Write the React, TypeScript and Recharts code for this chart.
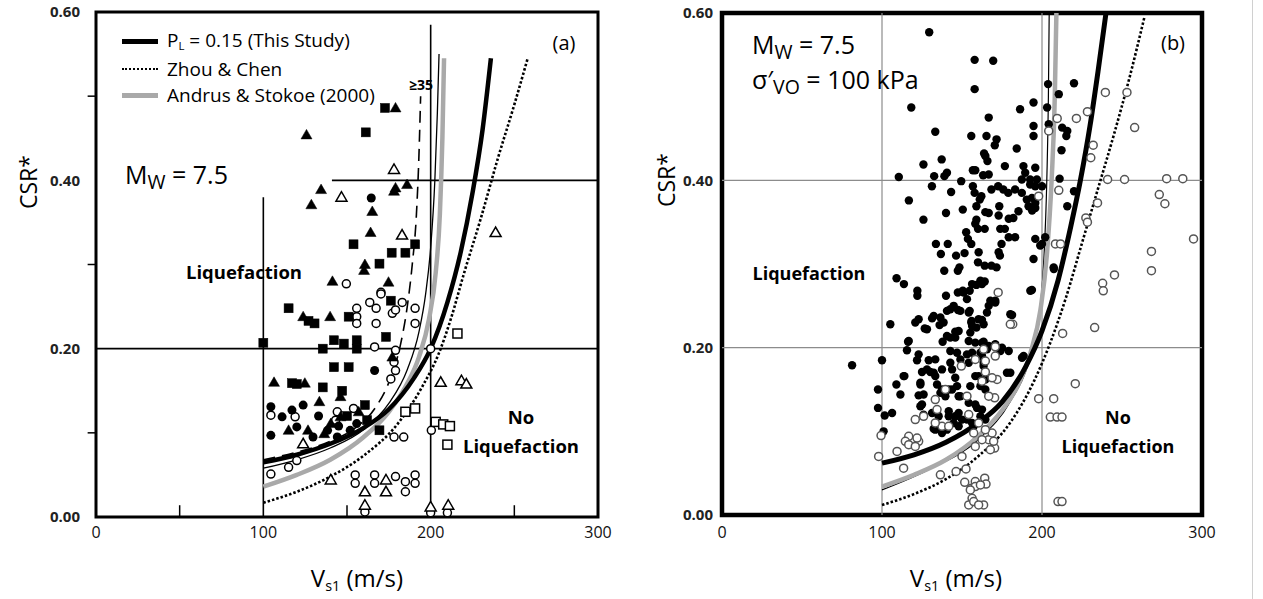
import { ComposedChart, Line, Scatter, XAxis, YAxis, ReferenceLine, ReferenceArea } from 'recharts'

const FONT = '"Open Sans", "Noto Sans", sans-serif'

type Pair = [number, number]
const pts = (arr: Pair[]) => arr.map(([x, y]) => ({ x, y }))

// axes
const X_TICKS = [0, 100, 200, 300]
const Y_TICKS = [0, 0.2, 0.4, 0.6]
const X_MINOR = [50, 150, 250]
const Y_MINOR = [0.1, 0.3, 0.5]

// ---- panel (a) curves: [Vs1, CSR]
const A_STUDY: Pair[] = [[100, 0.065], [120, 0.074], [140, 0.087], [160, 0.106], [175, 0.128], [190, 0.165], [200, 0.2], [210, 0.255], [218, 0.315], [225, 0.385], [231, 0.46], [236, 0.545]]
const A_ZHOU: Pair[] = [[100, 0.017], [120, 0.03], [140, 0.048], [160, 0.073], [180, 0.11], [195, 0.155], [205, 0.195], [212, 0.235], [220, 0.29], [230, 0.355], [240, 0.425], [250, 0.49], [258, 0.545]]
const A_ANDRUS: Pair[] = [[100, 0.036], [120, 0.05], [140, 0.068], [160, 0.095], [175, 0.125], [185, 0.155], [193, 0.19], [199, 0.235], [203, 0.29], [205.5, 0.36], [207, 0.45], [208, 0.545]]
const A_FC35: Pair[] = [[100, 0.068], [120, 0.077], [140, 0.09], [155, 0.106], [167, 0.13], [176, 0.165], [182, 0.205], [186, 0.25], [189, 0.3], [191.5, 0.36], [193, 0.43], [194, 0.5]]
const A_FC5: Pair[] = [[100, 0.058], [120, 0.068], [140, 0.082], [160, 0.104], [175, 0.135], [186, 0.175], [193, 0.22], [197, 0.265], [200, 0.32], [202.5, 0.4], [204, 0.48], [205, 0.55]]

// ---- panel (a) case histories
const A_TRI_FILLED: Pair[] = [[125.8, 0.454], [134.5, 0.389], [128.7, 0.371], [165.1, 0.363], [164.1, 0.338], [160.7, 0.3], [160.2, 0.293], [178.1, 0.387], [179, 0.391], [185.9, 0.395], [174.8, 0.279], [141.3, 0.28], [179, 0.486], [123.8, 0.238], [139.9, 0.238], [177.1, 0.19], [133.5, 0.137], [146.1, 0.143], [115.1, 0.103], [126.7, 0.103], [140.3, 0.111], [136.4, 0.099], [146.1, 0.119], [106.4, 0.16], [124.8, 0.159], [157, 0.125]]
const A_SQ_FILLED: Pair[] = [[172.7, 0.486], [161.2, 0.457], [153.9, 0.324], [169.4, 0.301], [176.7, 0.314], [184.9, 0.314], [190.7, 0.324], [115.1, 0.248], [100, 0.207], [130.6, 0.23], [127, 0.233], [151, 0.238], [135.5, 0.2], [142.2, 0.21], [148.1, 0.206], [155.8, 0.21], [155.8, 0.2], [142.2, 0.178], [151, 0.178], [173.3, 0.214], [176.2, 0.257], [135.5, 0.154], [147.1, 0.15], [160.7, 0.133], [169.4, 0.103], [117.1, 0.159], [120, 0.158], [150, 0.12], [162, 0.115]]
const A_CIRC_FILLED: Pair[] = [[164.5, 0.379], [104.5, 0.131], [111.2, 0.119], [117.1, 0.127], [123.8, 0.133], [104.5, 0.097], [120, 0.107], [129.7, 0.095], [138.4, 0.103], [155.8, 0.111], [151.9, 0.103], [144.2, 0.095], [166.5, 0.174], [145, 0.108], [133, 0.12]]
const A_CIRC_OPEN: Pair[] = [[149.6, 0.277], [170.3, 0.267], [155.8, 0.248], [155.8, 0.238], [155.8, 0.23], [163.6, 0.255], [167.4, 0.248], [170.3, 0.265], [177.1, 0.242], [183, 0.255], [179, 0.246], [167.4, 0.23], [166.5, 0.202], [179, 0.198], [190.7, 0.248], [190.7, 0.23], [178.1, 0.184], [179, 0.174], [176.2, 0.164], [104.5, 0.121], [119, 0.119], [144.2, 0.125], [153.9, 0.129], [143.2, 0.115], [104.5, 0.051], [120, 0.067], [115.1, 0.059], [178.1, 0.095], [183.9, 0.095], [154.9, 0.05], [154.9, 0.04], [166.5, 0.05], [166.5, 0.04], [179, 0.048], [184.9, 0.042], [184.9, 0.03], [190.7, 0.05], [190.7, 0.04], [200, 0.2], [200.4, 0.103], [160.7, 0.006], [200, 0.005], [210, 0.005]]
const A_TRI_OPEN: Pair[] = [[178.1, 0.413], [146.7, 0.38], [182.9, 0.335], [123.8, 0.087], [173.3, 0.044], [140.3, 0.044], [160.7, 0.03], [173.3, 0.03], [206, 0.16], [160.7, 0.014], [200, 0.012], [210.5, 0.014], [218.4, 0.162], [221.3, 0.158], [238.8, 0.338]]
const A_SQ_OPEN: Pair[] = [[203, 0.113], [207.5, 0.11], [211.5, 0.108], [210, 0.086], [216, 0.218], [184.9, 0.125], [190.7, 0.129]]

// ---- panel (b) curves
const B_STUDY: Pair[] = [[100, 0.062], [120, 0.072], [140, 0.087], [160, 0.11], [175, 0.135], [190, 0.178], [200, 0.22], [210, 0.28], [218, 0.345], [224, 0.4], [230, 0.465], [235, 0.53], [240, 0.6]]
const B_ZHOU: Pair[] = [[100, 0.012], [120, 0.025], [140, 0.043], [160, 0.07], [180, 0.11], [195, 0.16], [205, 0.205], [215, 0.26], [225, 0.325], [235, 0.39], [245, 0.455], [255, 0.525], [264, 0.595]]
const B_ANDRUS: Pair[] = [[100, 0.034], [120, 0.048], [140, 0.066], [160, 0.094], [175, 0.125], [185, 0.155], [193, 0.195], [199, 0.245], [203, 0.31], [206, 0.4], [208, 0.5], [209, 0.6]]
const B_THIN: Pair[] = [[100, 0.03], [130, 0.055], [160, 0.09], [180, 0.135], [192, 0.185], [198, 0.235], [201, 0.3], [203, 0.4], [204, 0.5], [204.5, 0.6]]

// ---- panel (b) case histories
const B_LIQ: Pair[] = [
  [129.5, 0.577], [157.9, 0.544], [169.5, 0.543], [157.9, 0.509], [118.3, 0.487], [166.7, 0.475], [133.3, 0.458], [155.8, 0.453], [165.3, 0.453], [171.6, 0.449], [170.5, 0.442], [184.2, 0.438], [186.3, 0.485], [194.7, 0.493], [194.7, 0.465], [194.7, 0.453], [203.2, 0.487], [203.8, 0.515], [220, 0.516], [210.5, 0.503], [204.2, 0.467], [212.6, 0.463], [215.8, 0.459], [215.2, 0.453], [212.2, 0.436],
  [125.9, 0.419], [137.3, 0.425], [164.6, 0.429], [165.9, 0.423], [163.8, 0.432], [140.6, 0.409], [139, 0.405], [132.6, 0.405], [110.5, 0.404], [116.8, 0.376], [149.5, 0.399], [156.8, 0.412], [158.3, 0.412], [163.2, 0.406], [166.7, 0.407], [176.8, 0.417], [188.4, 0.417], [189.5, 0.409], [187.4, 0.401], [192.6, 0.401], [195.8, 0.415], [196.8, 0.401], [211, 0.402],
  [131.2, 0.393], [143.2, 0.386], [156.8, 0.393], [157.9, 0.385], [161.1, 0.377], [162.1, 0.381], [168.4, 0.389], [172.6, 0.393], [175.8, 0.389], [178.9, 0.385], [183.2, 0.389], [187.4, 0.385], [192.6, 0.395], [195.8, 0.393], [200, 0.393], [193.7, 0.379], [195.8, 0.373], [190.5, 0.377], [220, 0.387], [215.8, 0.369],
  [140, 0.361], [150.5, 0.365], [159, 0.369], [159, 0.353], [166.7, 0.361], [173.3, 0.369], [185.3, 0.363], [191.6, 0.369], [195.8, 0.367], [125.9, 0.353], [160, 0.342], [164.2, 0.342], [182.1, 0.355], [176.8, 0.342], [183.2, 0.332], [152.6, 0.338], [153.7, 0.33], [133.7, 0.324], [141.1, 0.324], [155.8, 0.324], [174.7, 0.324], [195.8, 0.33], [200, 0.324], [202, 0.332],
  [193.8, 0.364], [164.6, 0.362], [172.9, 0.358], [179.2, 0.354], [158.3, 0.348], [173.9, 0.342], [179.2, 0.332], [198.9, 0.322], [160.4, 0.314], [172.9, 0.314], [207.3, 0.296],
  [136.8, 0.312], [146.3, 0.31], [151.6, 0.313], [160, 0.302], [164.2, 0.298], [168.4, 0.298], [171.6, 0.296], [173.7, 0.31], [194.7, 0.306], [207.4, 0.294], [138.9, 0.292], [148.4, 0.296], [147.4, 0.292], [109.1, 0.283], [113.7, 0.276], [122.1, 0.268], [122.1, 0.262], [140, 0.262], [147.4, 0.266], [150.5, 0.268], [159, 0.275], [164.2, 0.279], [193.7, 0.269],
  [151, 0.266], [154.8, 0.268], [162.5, 0.276], [156.3, 0.276], [161.5, 0.28], [192.7, 0.268], [167.7, 0.256], [170.8, 0.254], [166.7, 0.25], [154.2, 0.242], [160.4, 0.234], [156.3, 0.226], [180.2, 0.24],
  [81.3, 0.179], [100, 0.185], [97.5, 0.15], [97.5, 0.128], [106.3, 0.122], [101.7, 0.119], [101, 0.1], [105.2, 0.228], [116.3, 0.207], [115.6, 0.197], [114, 0.166], [109, 0.156], [111.5, 0.144], [120.8, 0.23], [126.7, 0.223], [131.3, 0.235], [153.1, 0.258], [154.8, 0.244], [140.6, 0.244], [147.5, 0.245], [136.5, 0.236], [136, 0.227], [145.8, 0.219], [137.9, 0.207], [142.7, 0.212], [155.8, 0.23], [162.5, 0.233], [165.6, 0.242], [170.8, 0.256], [181.3, 0.239], [180.2, 0.17], [188.5, 0.19],
  [122.9, 0.234], [128.1, 0.222], [132.3, 0.238], [138.5, 0.23], [142.7, 0.246], [144.8, 0.25], [149, 0.244], [156, 0.232], [159, 0.224], [163.5, 0.228], [140.6, 0.214], [145.8, 0.212], [147.9, 0.22], [155.2, 0.218], [116.7, 0.208],
  [121.9, 0.185], [129.2, 0.185], [133.3, 0.186], [142.7, 0.196], [142.7, 0.182], [143.8, 0.174], [153.1, 0.192], [154.2, 0.182], [158.3, 0.206], [163.5, 0.207], [165.6, 0.198], [174, 0.196], [125, 0.171], [130.2, 0.171], [124, 0.158], [122.9, 0.143], [134.4, 0.156], [137.5, 0.15], [145.8, 0.164], [143.8, 0.15], [139.6, 0.142], [147.9, 0.142], [160.4, 0.166], [161.5, 0.154], [164.6, 0.15],
  [154.2, 0.208], [162.5, 0.206], [166.7, 0.202], [170.8, 0.204], [175, 0.2], [179.2, 0.196], [156.3, 0.194], [162.5, 0.19], [187.5, 0.188], [163.5, 0.178], [158.3, 0.166], [178.1, 0.17], [155.2, 0.154], [149, 0.186], [146.9, 0.194], [161.5, 0.194], [163.5, 0.182], [128.1, 0.174], [132.3, 0.17], [113.5, 0.166],
  [125, 0.132], [126, 0.12], [131.3, 0.122], [135.4, 0.118], [141.7, 0.124], [145.8, 0.118], [150, 0.114], [147.9, 0.106], [158.3, 0.132], [162.5, 0.126], [164.6, 0.114], [132.3, 0.103], [137.5, 0.098], [156.3, 0.11], [137.5, 0.174], [133.3, 0.166], [122.9, 0.192],
  [124, 0.156], [126, 0.144], [136.5, 0.146], [141.7, 0.15], [146.9, 0.154], [149, 0.142], [164.6, 0.162], [124, 0.13], [134.4, 0.122], [141.7, 0.118], [144.8, 0.11], [147.9, 0.122], [153.1, 0.114], [157.3, 0.106], [161.5, 0.118], [133.3, 0.102], [140.6, 0.102], [154.2, 0.134], [159.4, 0.128],
]
const B_NOLIQ: Pair[] = [
  [239.6, 0.505], [253.1, 0.505], [228.4, 0.482], [221.5, 0.474], [209.5, 0.474], [204.2, 0.459], [257.9, 0.463], [232, 0.442], [230.5, 0.427], [241, 0.401], [251.6, 0.401], [277.9, 0.402], [288, 0.402], [273.3, 0.383], [276.8, 0.372], [294.7, 0.33], [268.4, 0.315], [268.4, 0.292], [245.3, 0.287], [237.9, 0.277], [238.3, 0.268], [234.7, 0.373], [227.4, 0.355], [228.4, 0.35], [210.5, 0.388], [197.9, 0.381], [208.4, 0.324], [211.6, 0.324], [172.6, 0.266],
  [232.9, 0.224], [212.9, 0.217], [181.7, 0.228], [220.8, 0.157], [197.9, 0.139], [207.3, 0.139], [205.2, 0.117], [209.4, 0.117], [212.5, 0.117], [210, 0.016], [212.5, 0.016], [170.8, 0.201], [170.8, 0.19], [164.6, 0.171], [171.9, 0.162], [170.4, 0.14], [158.3, 0.186], [149.6, 0.178], [164.6, 0.184],
  [133.3, 0.138], [139.6, 0.15], [134.4, 0.126], [120.8, 0.114], [126, 0.118], [116.7, 0.094], [114.6, 0.088], [122.9, 0.088], [109.4, 0.076], [113.5, 0.056], [97.9, 0.07], [99.4, 0.095], [116.7, 0.084], [120.8, 0.082], [121.9, 0.092], [137.5, 0.106], [141.7, 0.106], [133.3, 0.11], [154.2, 0.12], [160.4, 0.11],
  [136.5, 0.048], [146.3, 0.052], [150, 0.07], [152.5, 0.055], [151.7, 0.039], [158.3, 0.04], [164.2, 0.044], [165, 0.037], [155.8, 0.032], [158.3, 0.034], [156.3, 0.02], [154.2, 0.012], [157.3, 0.016], [163.5, 0.012], [166.7, 0.09], [170.4, 0.08], [169.8, 0.088], [168.8, 0.098], [164.6, 0.102], [158.3, 0.082], [157.3, 0.098],
  [180.2, 0.228], [168.8, 0.164], [162.5, 0.16], [166.7, 0.142], [163.5, 0.198], [153.1, 0.142], [162.5, 0.09], [167.7, 0.078], [161.5, 0.036], [155.2, 0.03], [160.4, 0.012],
]

// ---- marker shapes
const dot = (r: number) => (p: any) => <circle cx={p.cx} cy={p.cy} r={r} fill="#000" />
const ring = (r: number, stroke: string) => (p: any) => (
  <circle cx={p.cx} cy={p.cy} r={r} fill="#fff" stroke={stroke} strokeWidth={1.5} />
)
const tri = (filled: boolean) => (p: any) => (
  <polygon
    points={`${p.cx},${p.cy - 5.5} ${p.cx - 5.5},${p.cy + 4} ${p.cx + 5.5},${p.cy + 4}`}
    fill={filled ? '#000' : '#fff'}
    stroke="#000"
    strokeWidth={filled ? 0.5 : 1.5}
  />
)
const sq = (filled: boolean) => (p: any) => (
  <rect x={p.cx - 4.5} y={p.cy - 4.5} width={9} height={9} fill={filled ? '#000' : '#fff'} stroke="#000" strokeWidth={filled ? 0.5 : 1.5} />
)

function Txt({ x, y, size = 16, weight = 400, anchor = 'start', rotate = false, children }: any) {
  const tx = anchor === 'middle' ? '-50%' : anchor === 'end' ? '-100%' : '0'
  return (
    <div
      style={{
        position: 'absolute',
        left: x,
        top: y,
        transform: `translate(${tx}, -50%)${rotate ? ' rotate(-90deg)' : ''}`,
        fontSize: size,
        fontWeight: weight,
        fontFamily: FONT,
        whiteSpace: 'nowrap',
        lineHeight: 1,
        color: '#000',
      }}
    >
      {children}
    </div>
  )
}

const subSmall = { fontSize: '0.6em', verticalAlign: '-0.3em' }
const subBig = { fontSize: '0.78em', verticalAlign: '-0.28em' }

const xTick = { fontSize: 16, fill: '#111', fontFamily: FONT }
const yTick = { fontSize: 15, fontWeight: 700, fill: '#222', fontFamily: FONT }

function PanelA() {
  return (
    <ComposedChart width={640} height={599} margin={{ top: 12, right: 42, bottom: 52, left: 36 }}>
      <XAxis type="number" dataKey="x" domain={[0, 300]} ticks={X_TICKS} interval={0} allowDataOverflow axisLine={false} tickLine={false} tickSize={0} tickMargin={10} height={30} tick={xTick} />
      <YAxis type="number" dataKey="y" domain={[0, 0.6]} ticks={Y_TICKS} interval={0} allowDataOverflow axisLine={false} tickLine={false} tickSize={0} tickMargin={16} width={60} tick={yTick} tickFormatter={(v: number) => v.toFixed(2)} />
      <ReferenceArea x1={0} x2={300} y1={0} y2={0.6} fill="none" fillOpacity={0} stroke="#000" strokeWidth={3} />
      <ReferenceLine y={0.2} stroke="#000" strokeWidth={1.6} />
      <ReferenceLine segment={[{ x: 141, y: 0.4 }, { x: 300, y: 0.4 }]} stroke="#000" strokeWidth={1.6} />
      <ReferenceLine segment={[{ x: 100, y: 0 }, { x: 100, y: 0.38 }]} stroke="#000" strokeWidth={1.6} />
      <ReferenceLine segment={[{ x: 200, y: 0 }, { x: 200, y: 0.585 }]} stroke="#000" strokeWidth={1.6} />
      {Y_MINOR.map((v) => (
        <ReferenceLine key={`ym${v}`} segment={[{ x: -5, y: v }, { x: 0, y: v }]} ifOverflow="visible" stroke="#000" strokeWidth={1.5} />
      ))}
      {X_MINOR.map((v) => (
        <ReferenceLine key={`xm${v}`} segment={[{ x: v, y: 0 }, { x: v, y: 0.014 }]} stroke="#000" strokeWidth={1.5} />
      ))}
      <Scatter data={pts(A_CIRC_OPEN)} shape={ring(4, '#000')} isAnimationActive={false} />
      <Scatter data={pts(A_TRI_OPEN)} shape={tri(false)} isAnimationActive={false} />
      <Scatter data={pts(A_SQ_OPEN)} shape={sq(false)} isAnimationActive={false} />
      <Scatter data={pts(A_CIRC_FILLED)} shape={dot(4.5)} isAnimationActive={false} />
      <Scatter data={pts(A_SQ_FILLED)} shape={sq(true)} isAnimationActive={false} />
      <Scatter data={pts(A_TRI_FILLED)} shape={tri(true)} isAnimationActive={false} />
      <Line data={pts(A_FC35)} dataKey="y" type="monotone" dot={false} stroke="#000" strokeWidth={1.6} strokeDasharray="12 7" isAnimationActive={false} />
      <Line data={pts(A_FC5)} dataKey="y" type="monotone" dot={false} stroke="#000" strokeWidth={1.3} isAnimationActive={false} />
      <Line data={pts(A_ANDRUS)} dataKey="y" type="monotone" dot={false} stroke="#a9a9a9" strokeWidth={4.5} isAnimationActive={false} />
      <Line data={pts(A_ZHOU)} dataKey="y" type="monotone" dot={false} stroke="#000" strokeWidth={2.6} strokeDasharray="2.5 2" isAnimationActive={false} />
      <Line data={pts(A_STUDY)} dataKey="y" type="monotone" dot={false} stroke="#000" strokeWidth={4.5} isAnimationActive={false} />
    </ComposedChart>
  )
}

function PanelB() {
  return (
    <ComposedChart width={623} height={599} margin={{ top: 13, right: 61, bottom: 54, left: 22 }}>
      <XAxis type="number" dataKey="x" domain={[0, 300]} ticks={X_TICKS} interval={0} allowDataOverflow axisLine={false} tickLine={false} tickSize={0} tickMargin={12} height={30} tick={xTick} />
      <YAxis type="number" dataKey="y" domain={[0, 0.6]} ticks={Y_TICKS} interval={0} allowDataOverflow axisLine={false} tickLine={false} tickSize={0} tickMargin={9} width={60} tick={yTick} tickFormatter={(v: number) => v.toFixed(2)} />
      <ReferenceLine x={100} stroke="#8c8c8c" strokeWidth={1.2} />
      <ReferenceLine x={200} stroke="#8c8c8c" strokeWidth={1.2} />
      <ReferenceLine y={0.2} stroke="#8c8c8c" strokeWidth={1.2} />
      <ReferenceLine y={0.4} stroke="#8c8c8c" strokeWidth={1.2} />
      <ReferenceArea x1={0} x2={300} y1={0} y2={0.6} fill="none" fillOpacity={0} stroke="#000" strokeWidth={4.5} />
      <Scatter data={pts(B_LIQ)} shape={dot(4.2)} isAnimationActive={false} />
      <Scatter data={pts(B_NOLIQ)} shape={ring(4, '#555')} isAnimationActive={false} />
      <Line data={pts(B_THIN)} dataKey="y" type="monotone" dot={false} stroke="#000" strokeWidth={1.2} isAnimationActive={false} />
      <Line data={pts(B_ANDRUS)} dataKey="y" type="monotone" dot={false} stroke="#a9a9a9" strokeWidth={4.5} isAnimationActive={false} />
      <Line data={pts(B_ZHOU)} dataKey="y" type="monotone" dot={false} stroke="#000" strokeWidth={2.6} strokeDasharray="2.5 2" isAnimationActive={false} />
      <Line data={pts(B_STUDY)} dataKey="y" type="monotone" dot={false} stroke="#000" strokeWidth={5} isAnimationActive={false} />
    </ComposedChart>
  )
}

export default function App() {
  return (
    <div style={{ position: 'absolute', left: 0, top: 0, width: 1263, height: 599, background: '#fff', overflow: 'hidden' }}>
      <div style={{ position: 'absolute', left: 0, top: 0 }}>
        <PanelA />
      </div>
      <div style={{ position: 'absolute', left: 640, top: 0 }}>
        <PanelB />
      </div>

      {/* panel (a) legend */}
      <div style={{ position: 'absolute', left: 122, top: 39, width: 36, height: 4.5, background: '#000' }} />
      <div style={{ position: 'absolute', left: 122, top: 68, width: 36, borderTop: '2.5px dotted #000' }} />
      <div style={{ position: 'absolute', left: 122, top: 93, width: 36, height: 5, background: '#a9a9a9' }} />
      <Txt x={167} y={41} size={19}>P<span style={subSmall}>L</span> = 0.15 (This Study)</Txt>
      <Txt x={167} y={69} size={19}>Zhou &amp; Chen</Txt>
      <Txt x={167} y={95} size={19}>Andrus &amp; Stokoe (2000)</Txt>
      <Txt x={564} y={43} size={20} anchor="middle">(a)</Txt>
      <Txt x={421} y={85} size={14} weight={700} anchor="middle">≥35</Txt>
      <Txt x={125} y={177} size={25}>M<span style={subBig}>W</span> = 7.5</Txt>
      <Txt x={244} y={272} size={18.5} weight={700} anchor="middle">Liquefaction</Txt>
      <Txt x={521} y={417} size={18.5} weight={700} anchor="middle">No</Txt>
      <Txt x={521} y={446} size={18.5} weight={700} anchor="middle">Liquefaction</Txt>
      <Txt x={28} y={182} size={23} anchor="middle" rotate>CSR*</Txt>
      <Txt x={357} y={580} size={24} anchor="middle">V<span style={subSmall}>s1</span> (m/s)</Txt>

      {/* panel (b) */}
      <Txt x={752} y={47} size={25}>M<span style={subBig}>W</span> = 7.5</Txt>
      <Txt x={752} y={82} size={25}>σ′<span style={subBig}>VO</span> = 100 kPa</Txt>
      <Txt x={1173} y={43} size={20} anchor="middle">(b)</Txt>
      <Txt x={809} y={273} size={18} weight={700} anchor="middle">Liquefaction</Txt>
      <Txt x={1118} y={417} size={18} weight={700} anchor="middle">No</Txt>
      <Txt x={1118} y={446} size={18} weight={700} anchor="middle">Liquefaction</Txt>
      <Txt x={666} y={180} size={23} anchor="middle" rotate>CSR*</Txt>
      <Txt x={956} y={580} size={24} anchor="middle">V<span style={subSmall}>s1</span> (m/s)</Txt>

      <div style={{ position: 'absolute', left: 1252, top: 0, width: 1, height: 599, background: '#d0d0d0' }} />
    </div>
  )
}
